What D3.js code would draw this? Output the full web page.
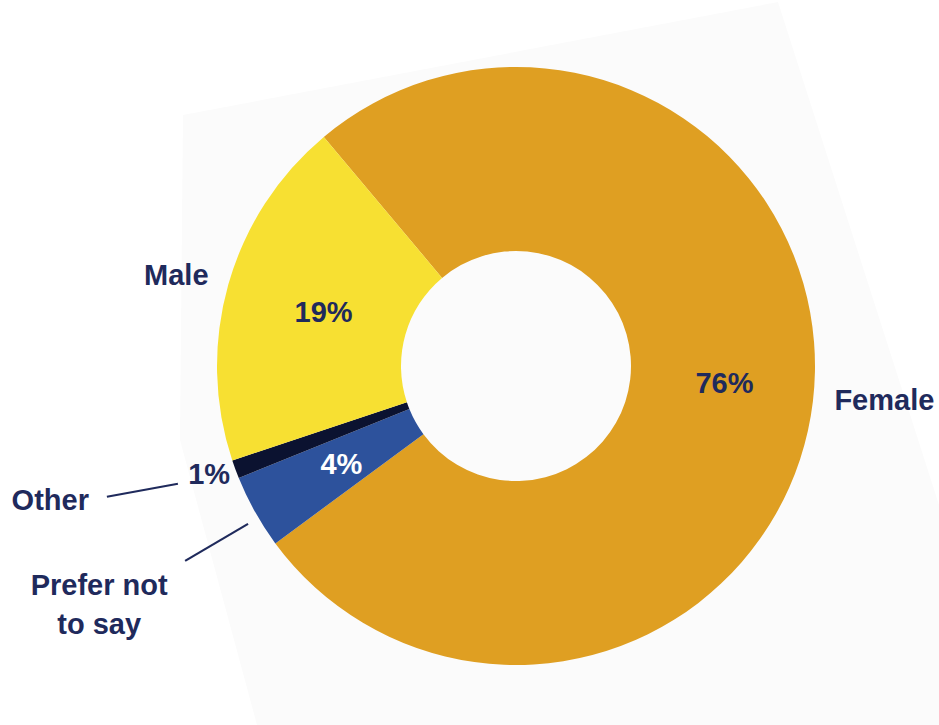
<!DOCTYPE html>
<html>
<head>
<meta charset="utf-8">
<script src="https://cdn.jsdelivr.net/npm/d3@7"></script>
<style>
  html, body { margin: 0; padding: 0; background: #fff; }
  svg { display: block; }
  text { font-family: "Liberation Sans", Arial, sans-serif; font-weight: bold; }
</style>
</head>
<body>
<div id="chart"></div>
<script>
// Gender split of respondents (percent)
const categories = ['Female', 'Prefer not to say', 'Other', 'Male'];
const values = [76, 4, 1, 19];
const valueLabels = ['76%', '4%', '1%', '19%'];
const colors = ['#df9f22', '#2d529c', '#0b1230', '#f7e032'];

const width = 939, height = 725;
const cx = 516, cy = 366;
const outerR = 299, innerR = 115;
const navy = '#1f2a5c';
const fontSize = '29px';

const svg = d3.select('#chart')
    .append('svg')
    .attr('width', width)
    .attr('height', height);

// faint tilted paper behind the chart
svg.append('polygon')
    .attr('points', '183,115 778,2 939,505 939,725 257,725 180,440')
    .style('fill', '#fbfbfb');

const g = svg.append('g').attr('transform', `translate(${cx},${cy})`);

const deg = Math.PI / 180;
const pie = d3.pie().sort(null).value(d => d.value)
    .startAngle(-40 * deg).endAngle(320 * deg);
const data = categories.map((c, i) => ({ name: c, value: values[i], label: valueLabels[i], color: colors[i] }));
const arcs = pie(data);

const arc = d3.arc().innerRadius(innerR).outerRadius(outerR);

g.selectAll('path.slice')
    .data(arcs)
    .enter().append('path')
    .attr('class', 'slice')
    .attr('d', arc)
    .style('fill', d => d.data.color);

// polar helper: angle measured clockwise from 12 o'clock
const polar = (a, r) => [Math.sin(a) * r, -Math.cos(a) * r];
const mid = d => (d.startAngle + d.endAngle) / 2;

// percentage labels: inside for big slices, outside for the tiny one
const valueRadius = { 'Female': 210, 'Male': 200, 'Prefer not to say': 200, 'Other': 327 };
const valueShift = { 'Female': 2, 'Male': 10, 'Prefer not to say': 10, 'Other': 5 };
g.selectAll('text.value')
    .data(arcs)
    .enter().append('text')
    .attr('class', 'value')
    .attr('x', d => polar(mid(d), valueRadius[d.data.name])[0])
    .attr('y', d => polar(mid(d), valueRadius[d.data.name])[1] + valueShift[d.data.name])
    .attr('text-anchor', 'middle')
    .style('font-size', fontSize)
    .style('fill', d => d.data.name === 'Prefer not to say' ? '#fff' : navy)
    .text(d => d.data.label);

// category labels
const byName = {};
arcs.forEach(d => { byName[d.data.name] = d; });

const female = polar(mid(byName['Female']), 368);
g.append('text').attr('x', female[0] - 47).attr('y', female[1])
    .style('font-size', fontSize).style('fill', navy).text('Female');

const male = polar(mid(byName['Male']), 352);
g.append('text').attr('x', male[0] - 1).attr('y', male[1] + 15)
    .attr('text-anchor', 'middle')
    .style('font-size', fontSize).style('fill', navy).text('Male');

// leader for "Other"
const o0 = polar(mid(byName['Other']) + 1 * deg, 358);
g.append('line')
    .attr('x1', o0[0]).attr('y1', o0[1])
    .attr('x2', o0[0] - 71).attr('y2', o0[1] + 13)
    .style('stroke', navy).style('stroke-width', 2.2);
g.append('text').attr('x', o0[0] - 89).attr('y', o0[1] + 26)
    .attr('text-anchor', 'end')
    .style('font-size', fontSize).style('fill', navy).text('Other');

// leader for "Prefer not to say"
const pa = mid(byName['Prefer not to say']) - 1.3 * deg;
const p0 = polar(pa, 311), p1 = polar(pa, 384);
g.append('line')
    .attr('x1', p0[0]).attr('y1', p0[1])
    .attr('x2', p1[0]).attr('y2', p1[1])
    .style('stroke', navy).style('stroke-width', 2.2);
const pt = g.append('text')
    .attr('text-anchor', 'middle')
    .style('font-size', fontSize).style('fill', navy);
pt.append('tspan').attr('x', p1[0] - 86).attr('y', p1[1] + 34).text('Prefer not');
pt.append('tspan').attr('x', p1[0] - 86).attr('y', p1[1] + 73).text('to say');
</script>
</body>
</html>
